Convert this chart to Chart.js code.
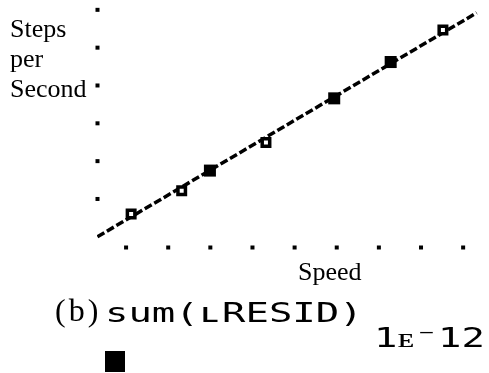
<!DOCTYPE html>
<html lang="en">
<head>
    <meta charset="UTF-8">
    <title>Steps per Second vs Speed</title>
    <script src="https://cdn.jsdelivr.net/npm/chart.js"></script>
    <style>
        body { margin: 0; background: #fff; }
        #wrap { position: relative; width: 489px; height: 373px; overflow: hidden; }
        #plot { position: absolute; left: 0; top: 0; }
        .serif { position: absolute; font-family: 'Liberation Serif', 'Times New Roman', serif; color: #000; white-space: nowrap; }
        .calc { position: absolute; font-family: 'DejaVu Sans Mono', monospace; font-size: 27.4px; line-height: 27.4px;
                color: #000; white-space: pre; transform: scaleX(1.42); transform-origin: 0 0; }
        #cursor { position: absolute; left: 105px; top: 351px; width: 20px; height: 21px; background: #000; }
    </style>
</head>
<body>
<div id="wrap">
    <canvas id="plot" width="489" height="373"></canvas>
    <div class="serif" style="left:10px; top:14px; font-size:26px; line-height:30px;">Steps<br>per<br>Second</div>
    <div class="serif" style="left:298px; top:257px; font-size:26px; line-height:30px;">Speed</div>
    <div class="serif" style="left:55px; top:294px; font-size:32px; line-height:32px; letter-spacing:3px;">(b)</div>
    <div class="calc" style="left:105px; top:299px;">sum(ʟRESID)</div>
    <div class="calc" style="left:374px; top:324px;">1ᴇ⁻12</div>
    <div id="cursor"></div>
</div>

<script>
    // data (grid units, one per tick)
    const openSpeed = [1.12, 2.32, 4.32, 8.52];
    const openSteps = [0.60, 1.22, 2.49, 5.47];
    const solidSpeed = [2.99, 5.94, 7.28];
    const solidSteps = [1.75, 3.66, 4.62];
    const fitSpeed = [0.32, 9.32];
    const fitSteps = [0.0, 5.92];
    const xTicks = [1, 2, 3, 4, 5, 6, 7, 8, 9];
    const yTicks = [1, 2, 3, 4, 5, 6];

    function pairs(xs, ys) {
        return xs.map((x, i) => ({ x: x, y: ys[i] }));
    }

    // TI style axes: just dots at the ticks
    const tickDots = {
        id: 'tickDots',
        afterDatasetsDraw(chart) {
            const ctx = chart.ctx;
            const xs = chart.scales.x, ys = chart.scales.y;
            const left = chart.chartArea.left, bottom = chart.chartArea.bottom;
            ctx.save();
            ctx.fillStyle = '#000';
            yTicks.forEach(v => ctx.fillRect(left - 1.5, ys.getPixelForValue(v) - 2, 4, 4));
            xTicks.forEach(v => ctx.fillRect(xs.getPixelForValue(v) - 2, bottom - 1.5, 4, 4));
            ctx.restore();
        }
    };

    new Chart(document.getElementById('plot'), {
        type: 'scatter',
        data: {
            datasets: [
                {
                    data: pairs(openSpeed, openSteps),
                    pointStyle: 'rect',
                    pointRadius: 5.3,
                    borderWidth: 3.5,
                    borderColor: '#000',
                    backgroundColor: '#fff'
                },
                {
                    data: pairs(solidSpeed, solidSteps),
                    pointStyle: 'rect',
                    pointRadius: 8.5,
                    borderWidth: 0,
                    backgroundColor: '#000'
                },
                {
                    type: 'line',
                    data: pairs(fitSpeed, fitSteps),
                    borderColor: '#000',
                    borderWidth: 3.5,
                    borderDash: [8, 3],
                    pointRadius: 0,
                    fill: false
                }
            ]
        },
        options: {
            responsive: false,
            animation: false,
            devicePixelRatio: 1,
            layout: { autoPadding: false, padding: { left: 97, right: 9, top: 0, bottom: 126 } },
            plugins: { legend: { display: false }, tooltip: { enabled: false } },
            scales: {
                x: { type: 'linear', min: 0.31, max: 9.4, display: false },
                y: { type: 'linear', min: -0.27, max: 6.26, display: false }
            }
        },
        plugins: [tickDots]
    });
</script>
</body>
</html>
